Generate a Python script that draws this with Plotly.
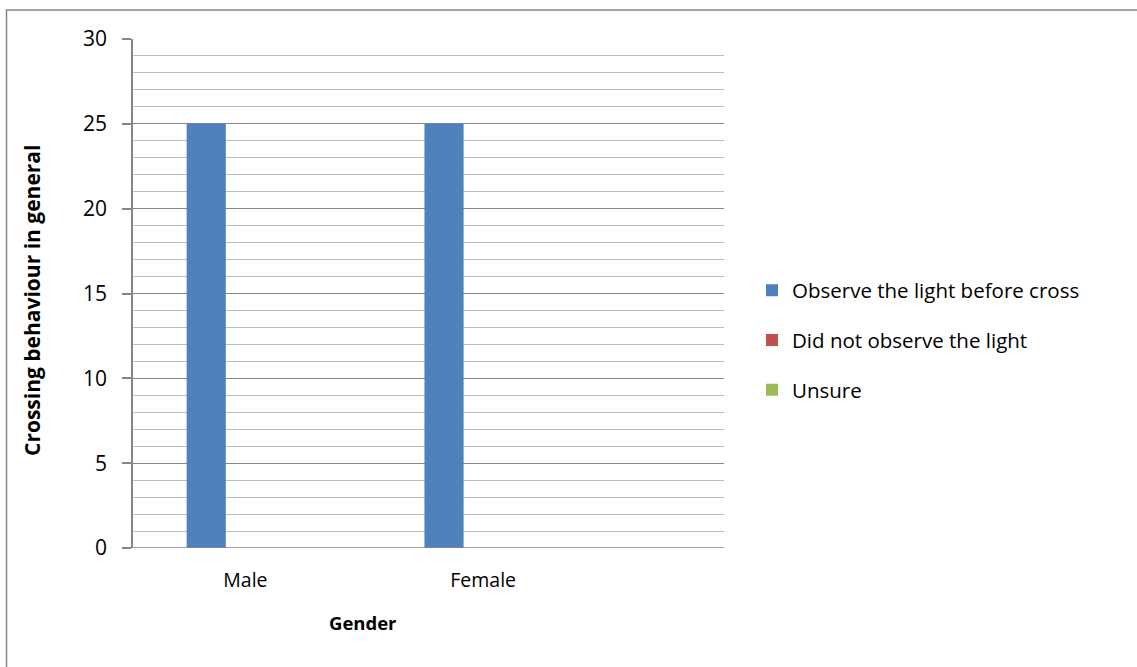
import plotly.graph_objects as go

# Survey counts by gender
genders = ["Male", "Female"]
observe_light = [25, 25]
did_not_observe = [0, 0]
unsure = [0, 0]

series_names = ["Observe the light before cross", "Did not observe the light", "Unsure"]
series_values = [observe_light, did_not_observe, unsure]
series_colors = ["#4F81BD", "#C0504D", "#9BBB59"]

y_ticks = [0, 5, 10, 15, 20, 25, 30]

FONT = "Open Sans, Carlito, Calibri, sans-serif"
AXIS_GREY = "#868686"

fig = go.Figure()
for i, (name, vals, col) in enumerate(zip(series_names, series_values, series_colors)):
    fig.add_trace(go.Bar(
        x=genders, y=vals, name=name,
        marker=dict(color=col, line=dict(width=0)),
        legendgroup=f"g{i}",
    ))

# plot area in pixels: left 133, right 724, top 39, bottom 548
L, R, T, B = 133, 724, 39, 548
W, H = 1137, 667
pw, ph = R - L, B - T

def px_x(x):
    return (x - L) / pw

def px_y(y):
    return (B - y) / ph

fig.update_layout(
    width=W, height=H,
    margin=dict(l=L, r=W - R, t=T, b=H - B, pad=0),
    paper_bgcolor="white", plot_bgcolor="white",
    barmode="group", bargap=0.506, bargroupgap=0,
    font=dict(family=FONT, size=19, color="#000000"),
    showlegend=True,
    legend=dict(
        x=px_x(752), y=px_y(340), xanchor="left", yanchor="middle",
        font=dict(family=FONT, size=20.5, color="#000000"),
        traceorder="grouped", tracegroupgap=20,
        bgcolor="rgba(0,0,0,0)", itemclick=False,
    ),
    xaxis=dict(
        type="category", range=[-0.4726, 2.0127],
        showgrid=False, zeroline=False,
        showline=False, ticks="",
        tickfont=dict(family=FONT, size=19.5),
        ticklabelstandoff=18,
        fixedrange=True,
    ),
    yaxis=dict(
        range=[0, 30], tickvals=y_ticks,
        showgrid=True, gridcolor=AXIS_GREY, gridwidth=1.3,
        zeroline=False,
        showline=True, linecolor=AXIS_GREY, linewidth=1.5,
        ticks="outside", ticklen=9, tickcolor=AXIS_GREY, tickwidth=1.5,
        ticklabelstandoff=11,
        tickfont=dict(family=FONT, size=21),
        minor=dict(dtick=1, showgrid=True, gridcolor="#BEBEBE", gridwidth=1.3, ticks=""),
        fixedrange=True,
    ),
    shapes=[
        # outer chart frame
        dict(type="rect", xref="paper", yref="paper",
             x0=px_x(6.5), x1=px_x(1145), y0=px_y(675), y1=px_y(10),
             line=dict(color=AXIS_GREY, width=1.5), fillcolor="rgba(0,0,0,0)",
             layer="below"),
        # category axis baseline
        dict(type="line", xref="paper", yref="y",
             x0=px_x(124), x1=1, y0=0, y1=0,
             line=dict(color=AXIS_GREY, width=1.5)),
    ],
    annotations=[
        dict(text="<b>Gender</b>", xref="paper", yref="paper",
             x=px_x(363), y=px_y(622), xanchor="center", yanchor="middle",
             showarrow=False, font=dict(family=FONT, size=18.5)),
        dict(text="<b>Crossing behaviour in general</b>", xref="paper", yref="paper",
             x=px_x(32), y=px_y(301), xanchor="center", yanchor="middle",
             textangle=-90, showarrow=False, font=dict(family=FONT, size=21)),
    ],
)

fig.write_html("out.html", config={"displayModeBar": False})
